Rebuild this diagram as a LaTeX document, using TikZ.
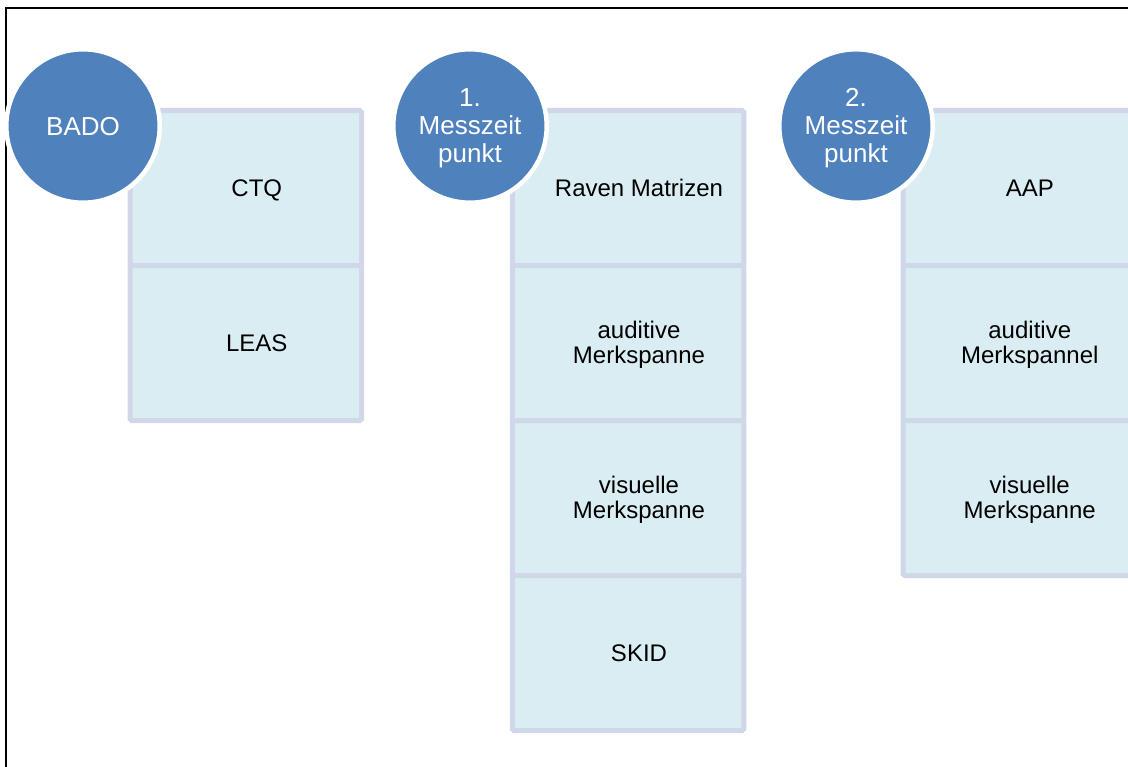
\documentclass[tikz,border=0pt]{standalone}
\usepackage{fontspec}
\setmainfont{Liberation Sans}
\definecolor{phaseblue}{HTML}{4F81BD}
\definecolor{cellfill}{HTML}{DAEDF3}
\definecolor{cellline}{HTML}{D0D7E8}
\tikzset{
  cellbox/.style={rectangle, draw=cellline, fill=cellfill, line width=3.75pt,
    rounded corners=1.2pt, minimum width=173.625pt, minimum height=116.25pt,
    inner sep=0pt, outer sep=0pt},
  celltext/.style={align=center, inner sep=0pt, text=black,
    font=\fontsize{18pt}{19pt}\selectfont},
  % one-line labels: box is exactly the cap height, so caps sit centred
  cellone/.style={celltext, text height=12.9pt, text depth=0pt},
  phase/.style={circle, fill=phaseblue, draw=white, line width=3.4pt,
    minimum size=115.1pt, inner sep=0pt},
  phasetext/.style={align=center, inner sep=0pt, text=white,
    font=\fontsize{19.5pt}{21pt}\selectfont},
  frameline/.style={line width=1.5pt, draw=black}
}
\begin{document}
\begin{tikzpicture}[x=0.75pt, y=-0.75pt]
  \useasboundingbox (0,0) rectangle (1128,767);
  \clip (0,0) rectangle (1128,767);

  % outer frame, running past the right and bottom edges
  \draw[frameline] (6,790) -- (6,7.7) -- (1150,7.7);

  % column 1: BADO
  \node[cellbox] (c1a) at (245.75,188) {};
  \node[cellbox] (c1b) at (245.75,343) {};
  % column 2: first measurement
  \node[cellbox] (c2a) at (628,188) {};
  \node[cellbox] (c2b) at (628,343) {};
  \node[cellbox] (c2c) at (628,498) {};
  \node[cellbox] (c2d) at (628,653) {};
  % column 3: second measurement
  \node[cellbox] (c3a) at (1018.75,188) {};
  \node[cellbox] (c3b) at (1018.75,343) {};
  \node[cellbox] (c3c) at (1018.75,498) {};

  % cell labels, set a little right of centre
  \tikzset{cellshift/.style={xshift=8.25pt, yshift=-1.1pt},
           oneshift/.style={xshift=8.25pt, yshift=0.3pt}}
  \node[cellone]  (t1a) at ([oneshift]c1a.center) {CTQ};
  \node[cellone]  (t1b) at ([oneshift]c1b.center) {LEAS};
  \node[cellone]  (t2a) at ([oneshift]c2a.center) {Raven Matrizen};
  \node[celltext] (t2b) at ([cellshift]c2b.center) {auditive\\Merkspanne};
  \node[celltext] (t2c) at ([cellshift]c2c.center) {visuelle\\Merkspanne};
  \node[cellone]  (t2d) at ([oneshift]c2d.center) {SKID};
  \node[cellone]  (t3a) at ([oneshift]c3a.center) {AAP};
  \node[celltext] (t3b) at ([cellshift]c3b.center) {auditive\\Merkspannel};
  \node[celltext] (t3c) at ([cellshift]c3c.center) {visuelle\\Merkspanne};

  % phase circles on top of the columns
  \node[phase] (p1) at (83,126) {};
  \node[phase] (p2) at (470,126) {};
  \node[phase] (p3) at (856,126) {};
  \node[phasetext] (q1) at ([yshift=-0.6pt]p1.center) {BADO};
  \node[phasetext] (q2) at ([yshift=-1.9pt]p2.center) {1.\\Messzeit\\punkt};
  \node[phasetext] (q3) at ([yshift=-1.9pt]p3.center) {2.\\Messzeit\\punkt};
\end{tikzpicture}
\end{document}
